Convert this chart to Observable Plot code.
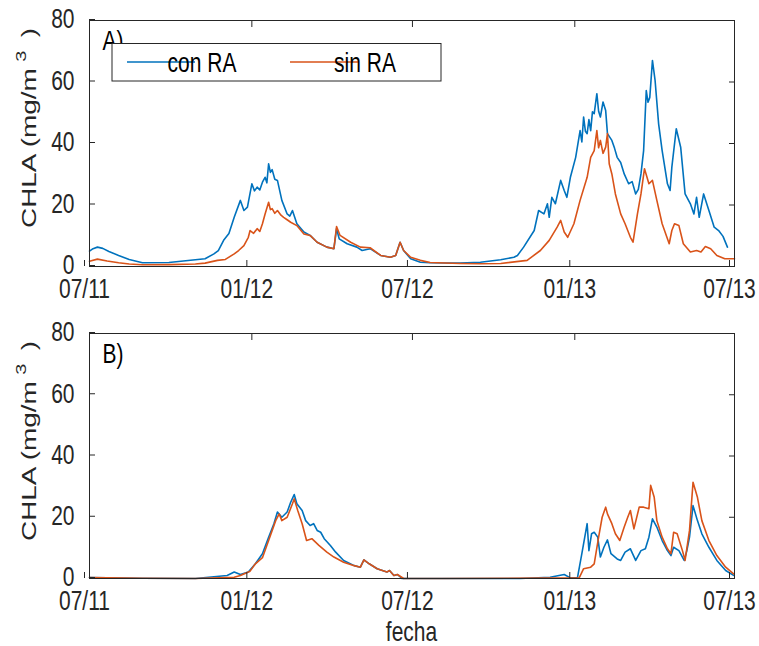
<!DOCTYPE html>
<html><head><meta charset="utf-8">
<script src="https://cdn.jsdelivr.net/npm/d3@7"></script>
<script src="https://cdn.jsdelivr.net/npm/@observablehq/plot@0.6"></script>
<style>
body{margin:0;background:#fff;}
#wrap{position:relative;width:759px;height:646px;background:#fff;}
#wrap svg{position:absolute;left:0;}
</style></head><body><div id="wrap"></div>
<script>
// ---- data (x = days since 2011-07-01, y = CHLA mg/m3) ----
const fechaInicio = "2011-07-01";
const fechaFin = "2013-07-01";
const tickFechas = ["2011-07-01","2012-01-01","2012-07-01","2013-01-01","2013-07-01"];
const yTicks = [0,20,40,60,80];
const series = ["con RA","sin RA"];
const colores = ["#0072BD","#D95319"];
const paneles = ["A)","B)"];
const ejeY = "CHLA (mg/m";
const ejeYsup = "3";
const ejeX = "fecha";

const conA = [[0,5.0],[4,5.8],[9,6.3],[15,5.9],[22,4.9],[33,3.6],[45,2.3],[60,1.2],[90,1.3],[120,2.2],[131,2.5],[141,4.1],[146,5.2],[152,8.5],[158,10.7],[164,16],[171,21.5],[175,18.2],[179,19.3],[184,26.9],[187,24.6],[190,25.8],[193,24.9],[196,27.4],[199,29],[201,27.2],[203,33.4],[205,30.6],[207,31.5],[210,28.4],[213,28],[218,21.5],[224,17.1],[227,16.4],[230,18.2],[235,13.9],[243,11.2],[250,10.1],[258,7.9],[269,6.3],[277,5.8],[280,12.3],[283,9],[292,7.4],[303,6.3],[309,5.2],[318,5.8],[330,3.6],[341,3],[347,3.6],[352,7.9],[356,5.2],[364,2.5],[375,1.4],[386,1.2],[420,1.1],[443,1.4],[466,2.2],[481,3],[485,3.6],[492,6.3],[504,11.7],[509,18.2],[515,17.1],[519,20.4],[521,16],[524,22.5],[528,20.4],[534,28],[538,24.7],[541,22.5],[545,29],[551,35.5],[556,44.2],[558,40.5],[560,48.6],[562,44],[564,43.2],[566,47.8],[568,44.2],[570,50.3],[572,49.7],[575,56.2],[577,50.5],[579,48.6],[582,53.5],[585,50.7],[587,43.2],[592,41],[595,38.5],[598,35.5],[602,33.8],[606,30.1],[611,26.9],[615,27.6],[619,23.6],[622,25.1],[625,30.1],[628,37.7],[631,57.2],[633,53.4],[635,55],[638,67],[641,60.5],[645,46.4],[649,37.7],[655,26.9],[658,24.7],[660,32.3],[665,44.8],[670,38.8],[675,23.6],[681,20.4],[685,17.1],[688,22.5],[691,16],[696,23.6],[702,18.2],[708,12.8],[713,11.7],[718,9.8],[723,6.3]];

const sinA = [[0,1.7],[9,2.4],[20,1.8],[33,1.2],[45,0.8],[60,0.55],[90,0.6],[120,0.8],[131,1.1],[145,2],[154,2.3],[164,4.1],[169,5.2],[175,6.8],[180,9.5],[182,11.7],[186,10.8],[190,12.3],[193,11.4],[196,13.9],[199,17.1],[203,20.9],[205,18.5],[207,18.8],[210,17.3],[213,18.2],[217,16.7],[220,16],[224,15.2],[228,14.4],[235,13.3],[243,10.6],[250,10.1],[258,7.9],[269,6.3],[277,5.8],[280,13],[284,10.1],[296,7.9],[307,6.3],[318,6.1],[330,3.6],[341,3],[347,3.6],[352,7.9],[356,5.2],[364,3],[375,2],[386,1.3],[420,1],[443,0.9],[466,1.0],[496,2],[511,5.2],[521,8.5],[530,12.8],[534,15],[538,11.2],[542,9.5],[549,13.9],[556,21.5],[564,29],[568,35.5],[572,37.7],[575,44.2],[577,38.6],[579,41],[582,36.8],[585,38.8],[587,43.2],[589,33.4],[592,30.1],[596,23.6],[602,17.1],[607,13.9],[613,9.5],[616,7.9],[621,17.1],[625,23.6],[629,31.8],[634,26.9],[638,28],[643,21.5],[649,13.9],[657,7.4],[660,11.7],[663,13.9],[668,13.3],[673,7.4],[681,4.7],[688,5.2],[693,4.7],[698,6.5],[704,5.8],[711,3.6],[720,2.5],[731,2.5]];

const conB = [[0,0.3],[60,0.1],[120,0],[156,1],[164,2.1],[171,1.3],[180,2.1],[188,4.8],[196,8.1],[203,13.5],[209,17.9],[213,21.7],[218,20],[224,21.7],[228,24.9],[232,27.4],[235,24.4],[241,22.2],[245,18.9],[250,17.3],[254,17.9],[258,15.7],[262,15.1],[266,13],[273,10.8],[279,8.6],[288,5.9],[300,4.2],[307,3.7],[311,6.1],[317,4.8],[326,3.2],[337,2.1],[340,2.6],[345,1],[349,1.3],[354,0],[400,0],[488,0],[522,0.4],[538,1.3],[545,0.2],[553,0.2],[558,8.1],[564,17.9],[566,9.1],[569,14.6],[572,15.1],[576,13.5],[579,7],[583,10.2],[587,12.6],[591,8.1],[598,6.4],[602,5.9],[607,8.6],[613,9.7],[619,5.9],[625,9.1],[630,9.7],[634,13.5],[638,19.5],[643,16.8],[649,12.4],[655,9.1],[659,7.5],[662,10.2],[668,9.1],[674,5.9],[677,9.1],[680,13.5],[684,23.8],[689,18.9],[694,14.6],[702,10.2],[711,5.9],[721,2.6],[730,1]];

const sinB = [[0,0.3],[60,0.1],[120,0],[164,0.4],[171,1],[182,2.4],[188,4.8],[196,6.8],[203,12.4],[211,18.9],[215,21.1],[218,18.9],[224,20],[230,24.4],[232,26],[236,22.2],[241,17.9],[246,12.4],[252,13],[260,10.8],[269,8.6],[277,7],[288,5.3],[300,4.2],[307,3.7],[311,6.1],[317,4.8],[326,3.2],[337,2.1],[340,2.6],[345,1],[349,1.3],[356,0],[400,0],[555,0.2],[560,3.2],[568,3.7],[572,4.8],[577,13.5],[581,20],[585,23.3],[587,21.1],[592,17.9],[596,14.6],[601,12.4],[606,16.8],[610,20],[613,22.2],[617,16.2],[623,23.3],[628,23.3],[634,22.8],[636,30.4],[640,26.5],[643,18.9],[649,13.5],[655,9.7],[659,8.1],[662,15.1],[666,14.6],[672,9.1],[675,5.9],[680,15.7],[684,31.4],[689,26.5],[694,18.9],[702,12.4],[711,7.5],[721,3.7],[730,1.5]];

// ---- rendering ----
const FONT = '"Liberation Sans", Arial, Helvetica, sans-serif';
const FS = 21, SY = 1.33, INK = "#262626";
const t0 = new Date(fechaInicio + "T00:00:00Z");
const t1 = new Date(fechaFin + "T00:00:00Z");
const ticks = tickFechas.map(s => new Date(s + "T00:00:00Z"));
const toRows = (serie, arr) => arr.map(([d, v]) => ({serie, fecha: d3.utcDay.offset(t0, d), valor: v}));

function panel(conData, sinData, label, height, marginBottom) {
  const data = [...toRows(series[0], conData), ...toRows(series[1], sinData)];
  return Plot.plot({
    width: 759, height,
    marginLeft: 89, marginRight: 25, marginTop: 20, marginBottom,
    style: {fontFamily: FONT, fontSize: FS + "px", color: INK, background: "white", overflow: "visible"},
    x: {type: "utc", domain: [t0, t1]},
    y: {domain: [0, 80]},
    color: {domain: series, range: colores},
    marks: [
      Plot.line(data, {x: "fecha", y: "valor", z: "serie", stroke: "serie", strokeWidth: 1.6, strokeLinejoin: "round"}),
      Plot.axisX({anchor: "bottom", ticks, tickSize: -6, tickPadding: 18, tickFormat: d3.utcFormat("%m/%y"), label: null, stroke: INK, dx: -5}),
      Plot.axisX({anchor: "top", ticks, tickSize: -6, tickFormat: () => "", label: null, stroke: INK}),
      Plot.axisY({anchor: "left", ticks: yTicks, tickSize: -6, tickPadding: 21, label: null, stroke: INK, dy: -1}),
      Plot.axisY({anchor: "right", ticks: yTicks, tickSize: -6, tickFormat: () => "", label: null, stroke: INK}),
      Plot.frame({stroke: INK, strokeWidth: 1}),
      Plot.text([label], {frameAnchor: "top-left", text: d => d, dx: 13, dy: 10, lineAnchor: "top", textAnchor: "start", fill: "black", fontSize: FS})
    ]
  });
}

function stretchText(svg) {
  svg.querySelectorAll("text").forEach(t => {
    const tr = t.getAttribute("transform") || "";
    t.setAttribute("transform", tr + ` scale(1,${SY})`);
  });
}

function yLabel(sel, cy) {
  const t = sel.append("text")
    .attr("transform", `translate(36,${cy}) rotate(-90) scale(${SY},1)`)
    .attr("text-anchor", "middle").attr("font-size", FS).attr("fill", INK)
    .attr("font-family", FONT);
  t.append("tspan").text(ejeY);
  t.append("tspan").attr("dx", 5).attr("dy", -10).attr("font-size", 15).text(ejeYsup);
  t.append("tspan").attr("dx", 10).attr("dy", 10).text(")");
}

const wrap = document.getElementById("wrap");
const svgA = panel(conA, sinA, paneles[0], 300, 34);
svgA.style.top = "0px";
wrap.appendChild(svgA);
stretchText(svgA);
const sA = d3.select(svgA);
yLabel(sA, 128);

// legend
const lg = sA.append("g").attr("font-family", FONT).attr("font-size", FS).attr("fill", "black");
lg.append("rect").attr("x", 112).attr("y", 43.5).attr("width", 329).attr("height", 37.5)
  .attr("fill", "white").attr("stroke", INK).attr("stroke-width", 1);
const legX = [[127, 195, 202], [290, 358, 365]];
series.forEach((s, i) => {
  lg.append("line").attr("x1", legX[i][0]).attr("x2", legX[i][1]).attr("y1", 62).attr("y2", 62)
    .attr("stroke", colores[i]).attr("stroke-width", 1.5);
  lg.append("text").attr("transform", `translate(${legX[i][2]},72) scale(1,${SY})`).text(s);
});

const svgB = panel(conB, sinB, paneles[1], 333, 68);
svgB.style.top = "313px";
wrap.appendChild(svgB);
stretchText(svgB);
const sB = d3.select(svgB);
yLabel(sB, 128);
sB.append("text").attr("transform", `translate(411.5,328) scale(1,${SY})`)
  .attr("text-anchor", "middle").attr("font-size", FS).attr("fill", INK).attr("font-family", FONT)
  .text(ejeX);
</script></body></html>
